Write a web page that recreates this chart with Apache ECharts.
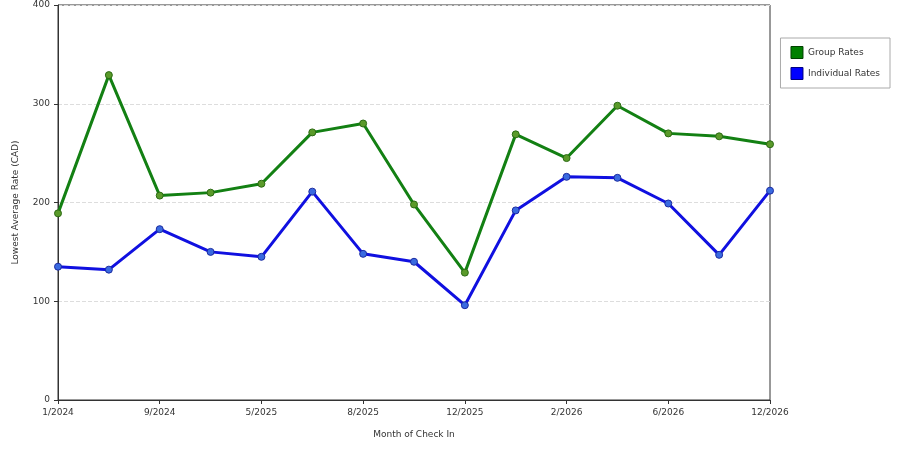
<!DOCTYPE html><html><head><meta charset="utf-8"><script src="https://cdn.jsdelivr.net/npm/echarts@6/dist/echarts.min.js"></script></head><body style="margin:0"><div id="c" style="width:900px;height:450px"></div><script>
const categories=["1/2024","5/2024","9/2024","1/2025","5/2025","7/2025","8/2025","10/2025","12/2025","1/2026","2/2026","4/2026","6/2026","9/2026","12/2026"];
const groupRates=[189,329,207,210,219,271,280,198,129,269,245,298,270,267,259];
const individualRates=[135,132,173,150,145,211,148,140,96,192,226,225,199,147,212];
const f={fontFamily:"DejaVu Sans",fontSize:9,color:"#333"};
echarts.init(document.getElementById('c')).setOption({
animation:false,
grid:{left:58,right:130,top:5,bottom:50,show:true,borderColor:"#333",borderWidth:1},
legend:{orient:"vertical",right:10,top:38,itemWidth:12,itemHeight:12,itemGap:8,padding:[8,10,8,10],borderColor:"#aaa",borderWidth:1,textStyle:f,icon:"rect",
 data:[{name:"Group Rates",itemStyle:{color:"#008000",borderColor:"#004000",borderWidth:1}},{name:"Individual Rates",itemStyle:{color:"#0000ff",borderColor:"#000080",borderWidth:1}}]},
xAxis:{type:"category",data:categories,boundaryGap:false,name:"Month of Check In",nameLocation:"middle",nameGap:30,nameTextStyle:f,axisLine:{lineStyle:{color:"#333"}},axisTick:{interval:1,length:4,lineStyle:{color:"#333"}},axisLabel:Object.assign({interval:1},f)},
yAxis:{type:"value",min:0,max:400,interval:100,name:"Lowest Average Rate (CAD)",nameLocation:"middle",nameGap:38,nameTextStyle:f,axisLine:{show:true,lineStyle:{color:"#333"}},axisTick:{show:true,length:4},axisLabel:f,splitLine:{lineStyle:{type:"dashed",color:"#ddd"}}},
series:[
{name:"Group Rates",type:"line",data:groupRates,color:"#138013",lineStyle:{width:3,color:"#138013"},symbol:"circle",symbolSize:7,itemStyle:{color:"#5a9a2a",borderColor:"#2a6a12",borderWidth:1}},
{name:"Individual Rates",type:"line",data:individualRates,color:"#1010e0",lineStyle:{width:3,color:"#1010e0"},symbol:"circle",symbolSize:7,itemStyle:{color:"#3a6ae0",borderColor:"#1a2aa0",borderWidth:1}}
]});
</script></body></html>
